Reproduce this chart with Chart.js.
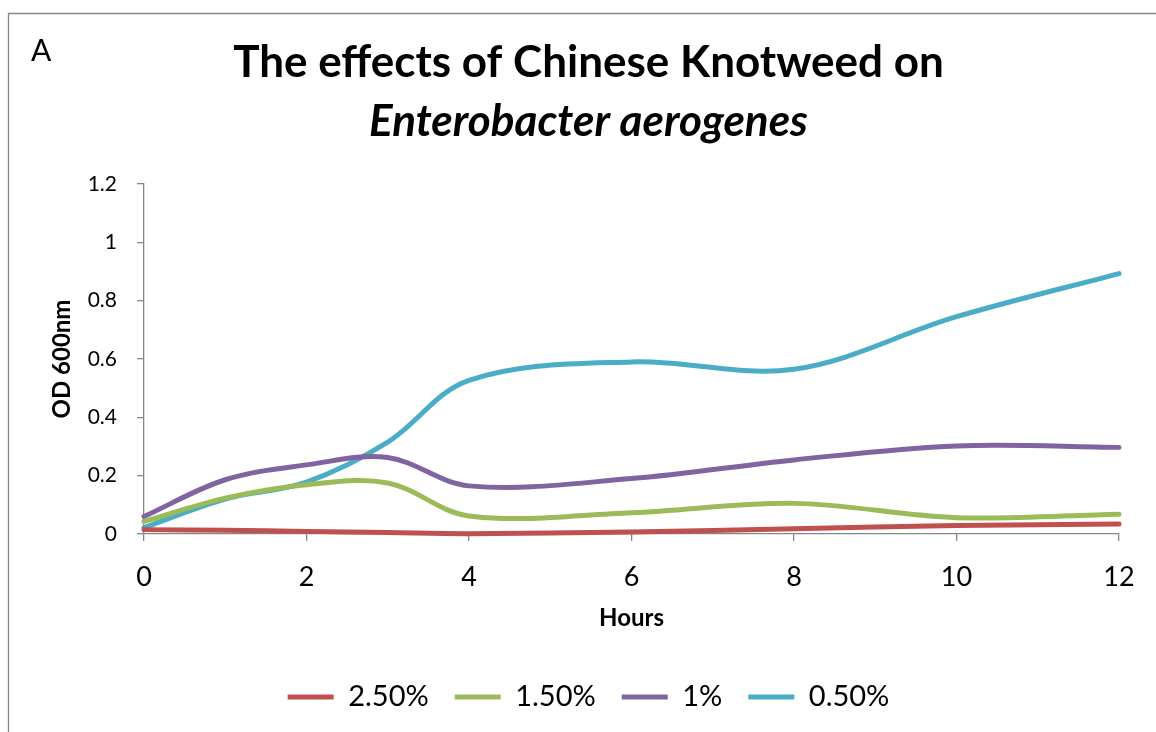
<!DOCTYPE html>
<html>
<head>
<meta charset="utf-8">
<script src="https://cdn.jsdelivr.net/npm/chart.js@4/dist/chart.umd.min.js"></script>
<style>
  html, body { margin: 0; padding: 0; background: #fff; }
  #wrap { position: relative; width: 1156px; height: 732px; }
</style>
</head>
<body>
<div id="wrap"><canvas id="c" width="1156" height="732"></canvas></div>
<script>
// ---- data ----
const hours = [0, 1, 2, 3, 4, 6, 8, 10, 12];
const seriesNames = ['2.50%', '1.50%', '1%', '0.50%'];
const od250 = [0.015, 0.013, 0.009, 0.005, 0.001, 0.007, 0.018, 0.029, 0.034];
const od150 = [0.043, 0.123, 0.169, 0.175, 0.062, 0.073, 0.105, 0.056, 0.068];
const od100 = [0.060, 0.186, 0.237, 0.262, 0.165, 0.190, 0.254, 0.302, 0.297];
const od050 = [0.022, 0.120, 0.178, 0.315, 0.527, 0.590, 0.565, 0.745, 0.893];
const xTicks = [0, 2, 4, 6, 8, 10, 12];
const yTicks = [0, 0.2, 0.4, 0.6, 0.8, 1, 1.2];

const colors = ['#C0504D', '#9BBB59', '#8064A2', '#4BACC6'];
const values = [od250, od150, od100, od050];
const FONT = 'Lato, "Open Sans", sans-serif';
const GRAY = '#868686';

Chart.defaults.color = '#000';
Chart.defaults.font.family = FONT;

const frame = {
  id: 'frame',
  beforeDraw(chart) {
    const ctx = chart.ctx;
    ctx.save();
    ctx.fillStyle = '#fff';
    ctx.fillRect(0, 0, chart.width, chart.height);
    ctx.strokeStyle = GRAY;
    ctx.lineWidth = 1.3;
    ctx.beginPath();
    ctx.moveTo(8.5, chart.height);
    ctx.lineTo(8.5, 13.5);
    ctx.lineTo(chart.width, 13.5);
    ctx.stroke();
    ctx.fillStyle = '#000';
    ctx.font = '30px ' + FONT;
    ctx.textBaseline = 'alphabetic';
    ctx.fillText('A', 31, 61);
    ctx.restore();
  }
};

const datasets = seriesNames.map((name, i) => ({
  label: name,
  data: hours.map((h, k) => ({ x: h, y: values[i][k] })),
  borderColor: colors[i],
  backgroundColor: colors[i],
  borderWidth: 5,
  borderCapStyle: 'round',
  borderJoinStyle: 'round',
  pointRadius: 0,
  tension: 0.35,
  clip: false
}));

new Chart(document.getElementById('c'), {
  type: 'line',
  data: { datasets },
  plugins: [frame],
  options: {
    responsive: false,
    animation: false,
    events: [],
    layout: { padding: { top: 14, left: 58, right: 37, bottom: 10.5 } },
    plugins: {
      tooltip: { enabled: false },
      title: {
        display: true,
        text: 'The effects of Chinese Knotweed on',
        font: { size: 44, weight: 'bold', family: FONT, lineHeight: 1.2 },
        padding: { top: 22.6, bottom: 0 },
        color: '#000'
      },
      subtitle: {
        display: true,
        text: 'Enterobacter aerogenes',
        font: { size: 44, weight: 'bold', style: 'italic', family: FONT, lineHeight: 1.2 },
        padding: { top: 6.2, bottom: 35.6 },
        color: '#000'
      },
      legend: {
        position: 'bottom',
        labels: {
          usePointStyle: true,
          pointStyle: 'line',
          pointStyleWidth: 46,
          boxHeight: 5,
          font: { size: 29, family: FONT },
          padding: 26,
          color: '#000'
        }
      }
    },
    scales: {
      x: {
        type: 'linear',
        min: 0, max: 12,
        afterFit(s) { s.height = 122.5; },
        afterBuildTicks(s) { s.ticks = xTicks.map(v => ({ value: v })); },
        ticks: { font: { size: 27, family: FONT }, padding: 20, color: '#000' },
        grid: { drawOnChartArea: false, drawTicks: true, tickLength: 7, color: GRAY, lineWidth: 1.3 },
        border: { color: GRAY, width: 1.3 },
        title: {
          display: true, text: 'Hours',
          font: { size: 24, weight: 'bold', family: FONT, lineHeight: 1.2 },
          padding: { top: 0, bottom: 24 }, color: '#000'
        }
      },
      y: {
        min: 0, max: 1.2,
        afterFit(s) { s.width = 86; },
        afterBuildTicks(s) { s.ticks = yTicks.map(v => ({ value: v })); },
        ticks: { font: { size: 21, family: FONT }, padding: 20, color: '#000',
                 callback: v => String(+v.toFixed(2)) },
        grid: { drawOnChartArea: false, drawTicks: true, tickLength: 7, color: GRAY, lineWidth: 1.3 },
        border: { color: GRAY, width: 1.3 },
        title: {
          display: true, text: 'OD 600nm',
          font: { size: 24, weight: 'bold', family: FONT, lineHeight: 1.2 },
          padding: { top: -10.4, bottom: 0 }, color: '#000'
        }
      }
    }
  }
});
</script>
</body>
</html>
